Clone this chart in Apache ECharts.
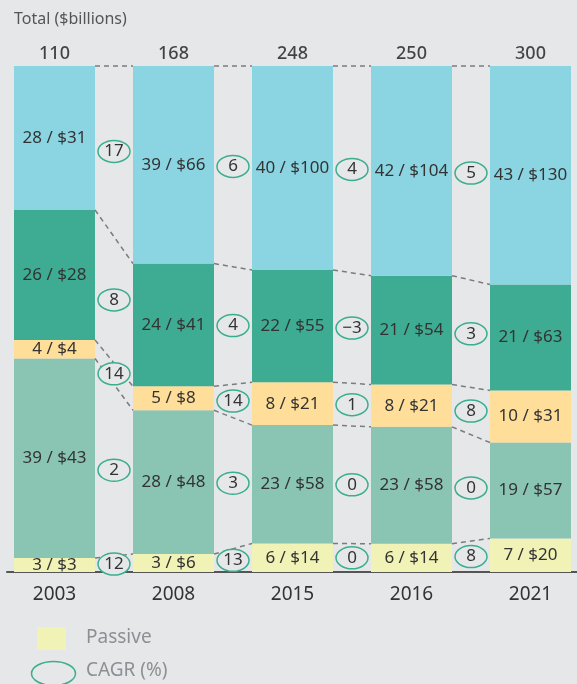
<!DOCTYPE html>
<html>
<head>
<meta charset="utf-8">
<script src="https://cdn.jsdelivr.net/npm/echarts@6/dist/echarts.min.js"></script>
<style>
  html, body { margin: 0; padding: 0; background: #e6e7e9; }
  #chart { width: 577px; height: 684px; }
</style>
</head>
<body>
<div id="chart"></div>
<script>
var years = ['2003', '2008', '2015', '2016', '2021']
var totals = [110, 168, 248, 250, 300]

// share of total (%) per segment as printed, bottom to top
var passivePct = [3, 3, 6, 6, 7]
var tealLightPct = [39, 28, 23, 23, 19]
var yellowPct = [4, 5, 8, 8, 10]
var tealDarkPct = [26, 24, 22, 21, 21]
var bluePct = [28, 39, 40, 42, 43]

// $ billions per segment
var passiveVal = [3, 6, 14, 14, 20]
var tealLightVal = [43, 48, 58, 58, 57]
var yellowVal = [4, 8, 21, 21, 31]
var tealDarkVal = [28, 41, 55, 54, 63]
var blueVal = [31, 66, 100, 104, 130]

// CAGR (%) between neighbouring years, bottom to top segment
var cagr = [
  ['12', '2', '14', '8', '17'],
  ['13', '3', '14', '4', '6'],
  ['0', '0', '1', '\u22123', '4'],
  ['8', '0', '8', '3', '5']
]

var font = 'Noto Sans'
var bg = '#e6e7e9'
var ring = '#3aae8f'
var barW = 81

var segments = [
  { name: 'Passive', pct: passivePct, val: passiveVal, color: '#f1f2b6' },
  { name: 'Teal light', pct: tealLightPct, val: tealLightVal, color: '#8ac4b3' },
  { name: 'Yellow', pct: yellowPct, val: yellowVal, color: '#fede98' },
  { name: 'Teal dark', pct: tealDarkPct, val: tealDarkVal, color: '#3eac92' },
  { name: 'Blue', pct: bluePct, val: blueVal, color: '#8bd5e3' }
]

// bar heights: each segment's $ share of that year's sum
var sums = years.map(function (y, i) {
  return segments.reduce(function (acc, s) { return acc + s.val[i] }, 0)
})
segments.forEach(function (s) {
  s.share = s.val.map(function (v, i) { return v / sums[i] * 100 })
})

// cumulative boundaries per year: [0, top of seg0, top of seg1, ...]
var cum = years.map(function (y, i) {
  var out = [0]
  segments.forEach(function (s) { out.push(out[out.length - 1] + s.share[i]) })
  return out
})

var barSeries = segments.map(function (s) {
  return {
    name: s.name,
    type: 'bar',
    stack: 'all',
    barWidth: barW,
    data: s.share,
    itemStyle: { color: s.color },
    label: {
      show: true,
      position: 'inside',
      fontFamily: font,
      fontSize: 17,
      color: '#333',
      formatter: function (p) {
        return s.pct[p.dataIndex] + ' / $' + s.val[p.dataIndex]
      }
    }
  }
})

function renderGap(params, api) {
  var i = params.dataIndex
  var children = []
  var half = barW / 2
  for (var k = 1; k <= segments.length; k++) {
    var a = api.coord([i, cum[i][k]])
    var b = api.coord([i + 1, cum[i + 1][k]])
    children.push({
      type: 'line',
      shape: { x1: a[0] + half, y1: a[1], x2: b[0] - half, y2: b[1] },
      style: { stroke: '#7a7c80', lineWidth: 1.5, lineDash: [5, 4] }
    })
  }
  for (var s = 0; s < segments.length; s++) {
    var ma = (cum[i][s] + cum[i][s + 1]) / 2
    var mb = (cum[i + 1][s] + cum[i + 1][s + 1]) / 2
    var pa = api.coord([i, ma])
    var pb = api.coord([i + 1, mb])
    var cx = (pa[0] + pb[0]) / 2
    var cy = (pa[1] + pb[1]) / 2
    children.push({
      type: 'ellipse',
      shape: { cx: cx, cy: cy, rx: 16, ry: 11 },
      style: { fill: bg, stroke: ring, lineWidth: 1.5 }
    })
    children.push({
      type: 'text',
      x: cx,
      y: cy,
      style: {
        text: cagr[i][s],
        align: 'center',
        verticalAlign: 'middle',
        fontFamily: font,
        fontSize: 17,
        fill: '#333'
      }
    })
  }
  return { type: 'group', children: children }
}

var myChart = echarts.init(document.getElementById('chart'))

var option = {
  backgroundColor: bg,
  animation: false,
  title: {
    text: 'Total ($billions)',
    left: 9,
    top: 6,
    textStyle: { fontFamily: font, fontSize: 16, fontWeight: 'normal', color: '#555' }
  },
  grid: [
    { left: 54.5, right: 46.5, top: 66, bottom: 112 },
    // second grid only carries the long baseline under the bars
    { left: 7, right: 0, top: 66, bottom: 112 }
  ],
  xAxis: [
    {
      type: 'category',
      data: years,
      boundaryGap: false,
      axisLine: { show: false },
      axisTick: { show: false },
      axisLabel: { fontFamily: font, fontSize: 19, color: '#333', margin: 13 }
    },
    {
      type: 'value',
      gridIndex: 1,
      axisLine: { show: true, lineStyle: { color: '#555', width: 2 } },
      axisTick: { show: false },
      axisLabel: { show: false },
      splitLine: { show: false }
    }
  ],
  yAxis: [
    { type: 'value', min: 0, max: 100, show: false },
    { type: 'value', gridIndex: 1, show: false }
  ],
  series: barSeries.concat([
    {
      name: 'Total',
      type: 'scatter',
      symbolSize: 0,
      data: years.map(function () { return 100 }),
      label: {
        show: true,
        position: 'top',
        distance: 3,
        fontFamily: font,
        fontSize: 18,
        fontWeight: 500,
        color: '#1a1a1a',
        formatter: function (p) { return totals[p.dataIndex] }
      }
    },
    {
      name: 'CAGR',
      type: 'custom',
      renderItem: renderGap,
      data: cagr.map(function (c, i) { return [i, 0] }),
      z: 5
    }
  ]),
  graphic: [
    { type: 'rect', left: 37, top: 627, shape: { width: 29, height: 23 }, style: { fill: '#f1f2b6' } },
    { type: 'text', left: 86, top: 628, style: { text: 'Passive', fontFamily: font, fontSize: 19, fill: '#8c9095' } },
    { type: 'ellipse', left: 29, top: 659, shape: { cx: 22, cy: 12, rx: 22, ry: 12 }, style: { fill: 'none', stroke: ring, lineWidth: 1.5 } },
    { type: 'text', left: 86, top: 661, style: { text: 'CAGR (%)', fontFamily: font, fontSize: 19, fill: '#8c9095' } }
  ]
}

myChart.setOption(option)
</script>
</body>
</html>
